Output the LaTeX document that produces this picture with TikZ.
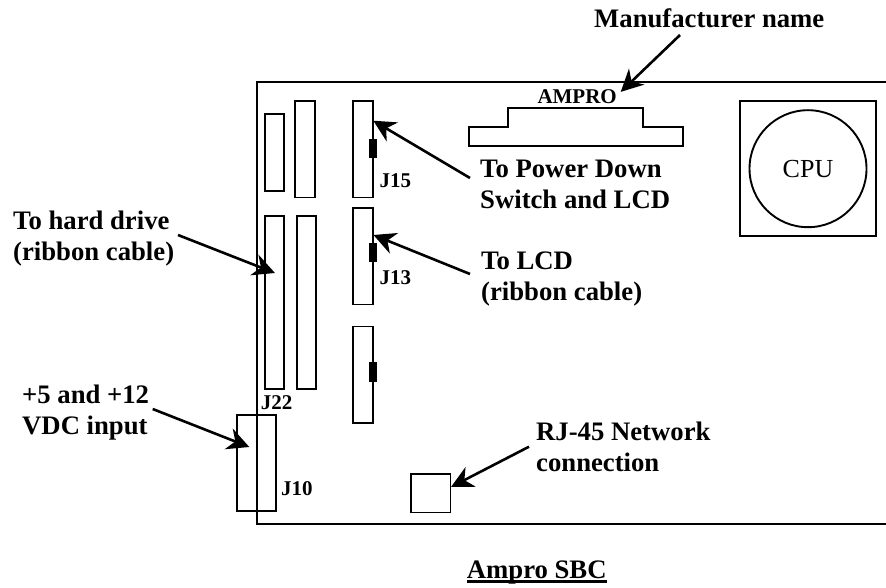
\documentclass[tikz,border=0pt]{standalone}
\usepackage{fontspec}
\setmainfont{Liberation Serif}
\usetikzlibrary{arrows.meta,positioning}

\tikzset{
    header/.style={draw,line width=1.9pt,minimum width=19.7pt,inner sep=0pt,outer sep=0pt},
    stub/.style={fill=black,minimum width=8.5pt,minimum height=19.5pt,inner sep=0pt},
    callout/.style={anchor=base west,align=left,inner sep=0pt,font=\bfseries\fontsize{26.7}{31}\selectfont},
    tag/.style={anchor=base west,inner sep=0pt,font=\bfseries\fontsize{21}{24}\selectfont},
    leader/.style={line width=2.6pt,-{Stealth[length=22pt,width=22pt,inset=7pt]}}
}

\begin{document}
\begin{tikzpicture}[x=1pt,y=-1pt]
    \useasboundingbox (0,0) rectangle (886,588);
    % board outline, open at the right
    \coordinate (board ne) at (886,82.3);
    \coordinate (board nw) at (256.7,82.3);
    \coordinate (board sw) at (256.7,523.5);
    \coordinate (board se) at (886,523.5);
    \draw[line width=2pt] (board ne) -- (board nw) -- (board sw) -- (board se);

    % headers
    \node[header,minimum height=77pt,anchor=north west] (short) at (264.7,113.7) {};
    \node[header,minimum height=96.5pt,anchor=north west] (upper) at (295.3,101) {};
    \node[header,minimum height=173.3pt,anchor=north west] (j22) at (264.7,216) {};
    \node[header,minimum height=173.3pt] (twin) [right=12.3pt of j22] {};
    \node[header,minimum height=96.5pt,anchor=north west] (j15) at (353.3,101) {};
    \node[header,minimum height=96.5pt] (j13) [below=10.5pt of j15] {};
    \node[header,minimum height=96.5pt] (j14) [below=22pt of j13] {};
    \node[header,minimum width=39.3pt,minimum height=96.3pt,anchor=north west] (j10) at (237,414.7) {};
    \node[stub,yshift=0.5pt] (key15) at (j15.east) {};
    \node[stub,yshift=3.75pt] (key13) at (j13.east) {};
    \node[stub,yshift=2.8pt] (key14) at (j14.east) {};

    % network socket, bus connector, cpu
    \node[header,minimum width=39.2pt,minimum height=38.5pt,anchor=north west] (rj45) at (411.3,474) {};
    \draw[line width=1.9pt] (469.3,126.7) -- (508.3,126.7) -- (508.3,108) -- (643.3,108) -- (643.3,126.7) -- (682.7,126.7) -- (682.7,146) -- (469.3,146) -- cycle;
    \node[header,minimum width=136pt,minimum height=134.7pt,anchor=north west] (socket) at (740,101.3) {};
    \node[draw,circle,line width=1.9pt,minimum size=117pt,inner sep=0pt,font=\fontsize{26}{30}\selectfont] (cpu) at (808,168.7) {CPU};

    % labels
    \node[callout] (maker) at (594,28) {Manufacturer name};
    \node[tag] (ampro) at (537.3,104) {AMPRO};
    \node[callout] (power) at (480,209) {To Power Down\\Switch and LCD};
    \node[callout] (lcd) at (481,300.7) {To LCD\\(ribbon cable)};
    \node[callout] (drive) at (13,260.7) {To hard drive\\(ribbon cable)};
    \node[callout] (supply) at (22,434) {+5 and +12\\VDC input};
    \node[callout] (network) at (536,471.7) {RJ-45 Network\\connection};
    \node[callout] (title) at (466.7,578) {\rlap{\rule[-4.7pt]{140pt}{2.7pt}}Ampro SBC};
    \node[tag] (l15) at (379.3,187.8) {J15};
    \node[tag] (l13) at (379.3,284.5) {J13};
    \node[tag] (l22) at (260.7,409.2) {J22};
    \node[tag] (l10) at (281,495.5) {J10};

    % free ends of the leaders
    \coordinate (maker tail) at (680,35);
    \coordinate (power tail) at (470,178);
    \coordinate (lcd tail) at (470,274);
    \coordinate (drive tail) at (178,235);
    \coordinate (supply tail) at (152.7,409);
    \coordinate (network tail) at (529,446.7);

    \draw[leader] (maker tail) -- ([shift={(3.7,2)}]ampro.north east);
    \draw[leader] (power tail) -- ([shift={(0.3,19.7)}]j15.north east);
    \draw[leader] (lcd tail) -- ([shift={(0.5,27)}]j13.north east);
    \draw[leader] (drive tail) -- ([shift={(0.4,57)}]j22.north);
    \draw[leader] (supply tail) -- ([shift={(12.3,32.3)}]j10.north west);
    \draw[leader] (network tail) -- ([shift={(0.5,13)}]rj45.north east);
\end{tikzpicture}
\end{document}
